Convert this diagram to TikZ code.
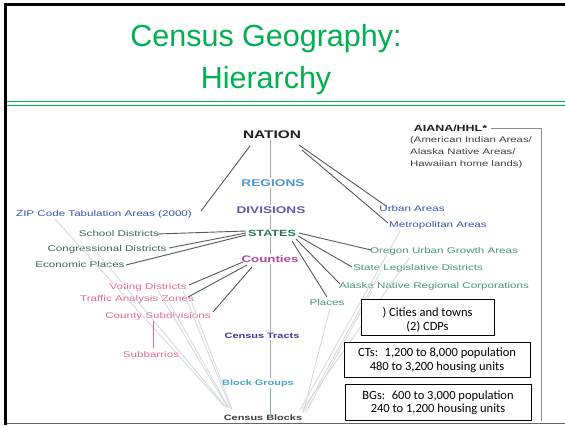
\documentclass[tikz,border=0pt]{standalone}
\usepackage{fontspec}
\setmainfont{Liberation Sans}
\newfontfamily\dg[FakeStretch=1.4]{Liberation Sans}
\newfontfamily\cbr{Carlito}
\definecolor{tgreen}{RGB}{0,176,80}
\definecolor{cnation}{RGB}{30,30,30}
\definecolor{cregion}{RGB}{80,150,205}
\definecolor{cdiv}{RGB}{105,85,170}
\definecolor{cstate}{RGB}{40,120,85}
\definecolor{ccounty}{RGB}{175,70,160}
\definecolor{ctract}{RGB}{55,60,140}
\definecolor{cbg}{RGB}{70,165,200}
\definecolor{cblock}{RGB}{60,60,60}
\definecolor{cblue}{RGB}{55,85,175}
\definecolor{cdgreen}{RGB}{60,105,80}
\definecolor{cpink}{RGB}{225,105,150}
\definecolor{clgreen}{RGB}{70,150,115}
\definecolor{cfaint}{RGB}{212,215,226}
\begin{document}
\begin{tikzpicture}[x=1pt,y=1pt,
  lab/.style={inner sep=1pt, font=\dg\fontsize{8.3}{10}\selectfont},
  head/.style={inner sep=1pt, font=\dg\bfseries\fontsize{#1}{#1}\selectfont},
  conn/.style={draw=black!65, line width=0.9pt},
  vline/.style={draw=black!35, line width=0.8pt},
  faint/.style={draw=cfaint, line width=0.8pt},
  infobox/.style={draw=black, fill=white, line width=0.9pt, inner sep=0pt,
    font=\cbr\fontsize{12.5}{13.5}\selectfont, align=center}
]
\useasboundingbox (0,0) rectangle (565,-426);
\fill[white] (0,0) rectangle (565,-426);

% frame
\draw[black!60, line width=1.2pt] (5.5,-423.5) -- (565,-423.5);
\draw[black, line width=2.5pt] (5.5,-424.5) -- (5.5,-4.5) -- (565,-4.5);
\draw[tgreen, line width=1.3pt] (6.8,-101.5) -- (565,-101.5);
\draw[tgreen, line width=1.3pt] (6.8,-105.5) -- (565,-105.5);

% title
\node[anchor=base, text=tgreen, font=\fontsize{30.5}{30.5}\selectfont, inner sep=0pt] (t1) at (266,-46) {Census Geography:};
\node[anchor=base, text=tgreen, font=\fontsize{30.5}{30.5}\selectfont, inner sep=0pt] (t2) at (266,-88) {Hierarchy};

% central hierarchy
\coordinate (axis) at (270,0);
\node[head=11, text=cnation] (nation) at (272,-135) {NATION};
\node[head=9.8, text=cregion] (regions) at (273,-183) {REGIONS};
\node[head=9.7, text=cdiv] (divisions) at (271,-210) {DIVISIONS};
\node[head=9, text=cstate] (states) at (272,-233) {STATES};
\node[head=9.5, text=ccounty] (counties) at (270,-259) {Counties};
\node[head=7.8, text=ctract] (tracts) at (262,-336) {Census Tracts};
\node[head=7.8, text=cbg] (bg) at (258,-383) {Block Groups};
\node[head=7.8, text=cblock] (blocks) at (263,-418) {Census Blocks};

% left side
\node[lab, text=cblue] (zip) at (104,-214) {ZIP Code Tabulation Areas (2000)};
\node[lab, text=cdgreen] (school) at (119,-234) {School Districts};
\node[lab, text=cdgreen] (cong) at (107,-249) {Congressional Districts};
\node[lab, text=cdgreen] (econ) at (80,-265) {Economic Places};
\node[lab, text=cpink] (voting) at (148,-287) {Voting Districts};
\node[lab, text=cpink] (traffic) at (137,-299) {Traffic Analysis Zones};
\node[lab, text=cpink] (countysub) at (158,-316) {County Subdivisions};
\node[lab, text=cpink] (subbarrios) at (151,-355) {Subbarrios};

% right side
\node[lab, text=cblue] (urban) at (412,-209) {Urban Areas};
\node[lab, text=cblue] (metro) at (438,-225) {Metropolitan Areas};
\node[lab, text=clgreen] (oregon) at (444,-251) {Oregon Urban Growth Areas};
\node[lab, text=clgreen] (stateleg) at (418,-268) {State Legislative Districts};
\node[lab, text=clgreen] (alaska) at (434,-286) {Alaska Native Regional Corporations};
\node[lab, text=clgreen] (places) at (327,-303) {Places};

% AIANA
\node[head=8.9, text=cnation] (aiana) at (450.5,-128) {AIANA/HHL*};
\node[lab, text=black!75, anchor=north west, align=left, font=\dg\fontsize{8.1}{12}\selectfont] (aianasub) at (409,-135.5) {(American Indian Areas/\\Alaska Native Areas/\\Hawaiian home lands)};
\coordinate (bend) at (541,-421);
\draw[draw=black!45, line width=0.9pt] ([xshift=3]aiana.east) -- (aiana.east -| bend) -- (bend);

% faint lines to census blocks
\draw[faint] ([shift={(-49,-5)}]zip.center) -- ([shift={(-39,12)}]blocks.center);
\draw[faint] ([shift={(-9,-5)}]cong.center) -- ([shift={(-37,11)}]blocks.center);
\draw[faint] ([shift={(10,-4)}]voting.center) -- ([shift={(-35,10)}]blocks.center);
\draw[faint] ([shift={(33,-5)}]traffic.center) -- ([shift={(-34,10)}]blocks.center);
\draw[faint] ([shift={(35,-4)}]voting.center) -- ([shift={(-32,9)}]blocks.center);
\draw[faint] ([shift={(55,-4)}]traffic.center) -- ([shift={(-31,9)}]blocks.center);
\draw[faint] ([shift={(-38,-6)}]metro.center) -- ([shift={(37,8)}]blocks.center);
\draw[faint] ([shift={(-34,-6)}]oregon.center) -- ([shift={(39,8)}]blocks.center);
\draw[faint] ([shift={(-38,-5)}]stateleg.center) -- ([shift={(41,7)}]blocks.center);
\draw[faint] ([shift={(-62,-5)}]alaska.center) -- ([shift={(43,6)}]blocks.center);
\draw[faint] ([shift={(3,-5)}]places.center) -- ([shift={(40,5)}]blocks.center);

% central axis
\draw[vline] (nation.south -| axis) -- (regions.north -| axis);
\draw[vline] (regions.south -| axis) -- (divisions.north -| axis);
\draw[vline] (divisions.south -| axis) -- (states.north -| axis);
\draw[vline] (states.south -| axis) -- (counties.north -| axis);
\draw[vline] (counties.south -| axis) -- (tracts.north -| axis);
\draw[vline] (tracts.south -| axis) -- (bg.north -| axis);
\draw[draw=clgreen!70, line width=0.8pt] (bg.south -| axis) -- (blocks.north -| axis);

% connectors from NATION
\draw[conn] ([shift={(-22,-11)}]nation.center) -- ([shift={(97,3)}]zip.center);
\draw[conn] ([shift={(27,-10)}]nation.center) -- ([shift={(-26,3)}]urban.center);
\draw[conn] ([shift={(30,-15)}]nation.center) -- ([shift={(-50,2)}]metro.center);

% connectors from STATES
\draw[conn] ([shift={(-26,2)}]states.center) -- ([shift={(38,0)}]school.center);
\draw[conn] ([shift={(-26,0)}]states.center) -- ([shift={(62,1)}]cong.center);
\draw[conn] ([shift={(-26,-2)}]states.center) -- ([shift={(46,0)}]econ.center);
\draw[conn] ([shift={(27,0)}]states.center) -- ([shift={(-73,1)}]oregon.center);
\draw[conn] ([shift={(26,-3)}]states.center) -- ([shift={(-66,1)}]stateleg.center);
\draw[conn] ([shift={(24,-6)}]states.center) -- ([shift={(-94,2)}]alaska.center);
\draw[conn] ([shift={(20,-8)}]states.center) -- ([shift={(0,6)}]places.center);

% connectors from Counties
\draw[conn] ([shift={(-27,-3)}]counties.center) -- ([shift={(41,2)}]voting.center);
\draw[conn] ([shift={(-23,-6)}]counties.center) -- ([shift={(51,2)}]traffic.center);
\draw[conn] ([shift={(-18,-8)}]counties.center) -- ([shift={(55,4)}]countysub.center);
\draw[draw=cpink, line width=0.9pt] ([shift={(-5,-5)}]countysub.center) -- ([shift={(2,7)}]subbarrios.center);

% info boxes
\node[infobox, minimum width=133, minimum height=36] (box1) at (427.5,-317)
  {\raisebox{-4pt}[\height][\depth]{\begin{tabular}{@{}c@{}}) Cities and towns\\(2) CDPs\end{tabular}}};
\node[infobox, minimum width=186, minimum height=35] (box2) at (437,-359.5)
  {\raisebox{-1.5pt}[\height][\depth]{\begin{tabular}{@{}c@{}}CTs:~ 1,200 to 8,000 population\\480 to 3,200 housing units\end{tabular}}};
\node[infobox, minimum width=186, minimum height=36] (box3) at (438,-402)
  {\raisebox{-1.5pt}[\height][\depth]{\begin{tabular}{@{}c@{}}BGs:~ 600 to 3,000 population\\240 to 1,200 housing units\end{tabular}}};
\end{tikzpicture}
\end{document}
